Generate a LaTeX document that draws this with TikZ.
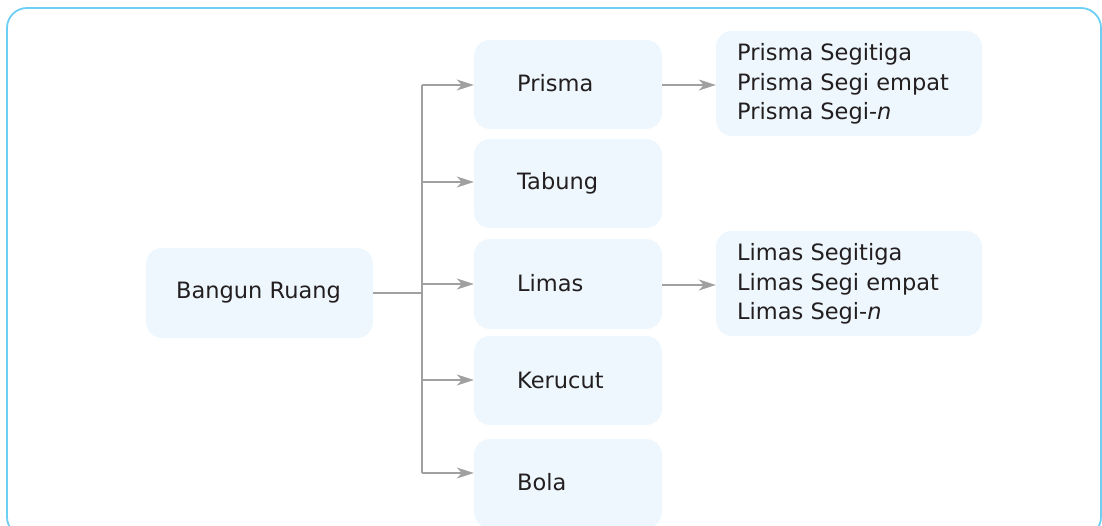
\documentclass[tikz,border=0pt]{standalone}
\usepackage{fontspec}
\setmainfont{DejaVu Sans}
\usetikzlibrary{arrows.meta}
\definecolor{frame}{HTML}{6ECFF4}
\definecolor{boxfill}{HTML}{EEF7FD}
\definecolor{conn}{HTML}{A0A0A0}
\definecolor{txt}{HTML}{231F20}
\tikzset{
  box/.style={fill=boxfill, rounded corners=16pt, inner sep=0pt},
  lbl/.style={font=\fontsize{22.5}{29.5}\selectfont, text=txt, anchor=west, align=left, inner sep=0pt},
  conn/.style={draw=conn, line width=1.3pt},
  arr/.style={conn, -{Stealth[length=17pt,width=11pt,inset=5pt]}}
}
\begin{document}
\begin{tikzpicture}[x=1pt,y=-1pt]
\useasboundingbox (0,0) rectangle (1102,526);
\begin{scope}
\clip (0,0) rectangle (1102,526);
\draw[frame, line width=1.8pt, rounded corners=20pt] (7,8) rectangle (1101,537);
\end{scope}
% boxes
\node[box, minimum width=227pt, minimum height=90pt] (br) at (259.5,293) {};
\node[box, minimum width=188pt, minimum height=89pt] (pr) at (568,84.5) {};
\node[box, minimum width=188pt, minimum height=89pt] (tb) at (568,183.5) {};
\node[box, minimum width=188pt, minimum height=90pt] (lm) at (568,284) {};
\node[box, minimum width=188pt, minimum height=89pt] (kr) at (568,380.5) {};
\node[box, minimum width=188pt, minimum height=89pt] (bl) at (568,483.5) {};
\node[box, minimum width=266pt, minimum height=105pt] (prs) at (849,83.5) {};
\node[box, minimum width=266pt, minimum height=105pt] (lms) at (849,283.5) {};
% labels
\node[lbl] (tbr) at (176,293) {Bangun Ruang};
\node[lbl] (tpr) at (517,83) {Prisma};
\node[lbl] (ttb) at (517,183) {Tabung};
\node[lbl] (tlm) at (517,283) {Limas};
\node[lbl] (tkr) at (517,380) {Kerucut};
\node[lbl] (tbl) at (517,482) {Bola};
\node[lbl] (tprs) at (737,84) {Prisma Segitiga\\Prisma Segi empat\\Prisma Segi-\textit{n}};
\node[lbl] (tlms) at (737,284) {Limas Segitiga\\Limas Segi empat\\Limas Segi-\textit{n}};
% connectors
\coordinate (j) at (422,293);
\draw[conn] (br.east) -- (j);
\draw[conn] (422,85) -- (422,473);
\draw[arr] (422,85) -- (pr.west|-0,85);
\draw[arr] (422,182) -- (tb.west|-0,182);
\draw[arr] (422,284) -- (lm.west|-0,284);
\draw[arr] (422,380) -- (kr.west|-0,380);
\draw[arr] (422,473) -- (bl.west|-0,473);
\draw[arr] (pr.east|-0,85) -- (prs.west|-0,85);
\draw[arr] (lm.east|-0,285) -- (lms.west|-0,285);
\end{tikzpicture}
\end{document}
